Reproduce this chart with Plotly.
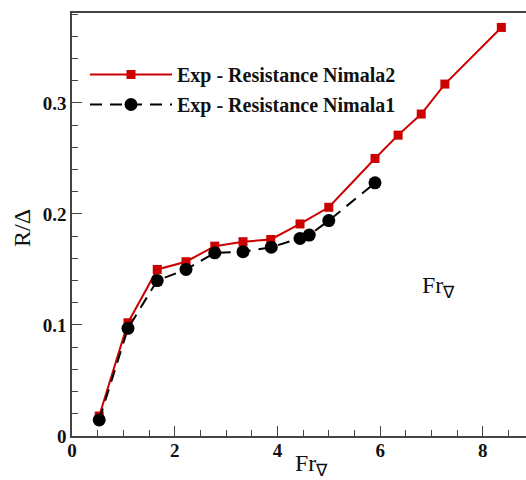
import plotly.graph_objects as go

fr_n2 = [0.53, 1.09, 1.66, 2.22, 2.78, 3.33, 3.87, 4.44, 5.0, 5.9, 6.35, 6.8, 7.26, 8.36]
r_n2 = [0.018, 0.102, 0.150, 0.157, 0.171, 0.175, 0.177, 0.191, 0.206, 0.250, 0.271, 0.290, 0.317, 0.368]

fr_n1 = [0.53, 1.09, 1.66, 2.22, 2.78, 3.33, 3.88, 4.44, 4.62, 5.0, 5.9]
r_n1 = [0.0145, 0.097, 0.140, 0.150, 0.165, 0.166, 0.170, 0.178, 0.181, 0.194, 0.228]

name_n2 = "Exp - Resistance Nimala2"
name_n1 = "Exp - Resistance Nimala1"

RED = "#cc0000"
SERIF = "Liberation Serif"

fig = go.Figure()
fig.add_trace(go.Scatter(
    x=fr_n2, y=r_n2, mode="lines+markers", name=name_n2, legendgroup="a",
    line=dict(color=RED, width=2),
    marker=dict(symbol="square", size=9, color=RED),
))
fig.add_trace(go.Scatter(
    x=fr_n1, y=r_n1, mode="lines+markers", name=name_n1, legendgroup="b",
    line=dict(color="black", width=2, dash="12px,8px"),
    marker=dict(symbol="circle", size=13, color="black"),
))

axis_common = dict(
    showgrid=False, zeroline=False, showline=True, linecolor="#444", linewidth=1.5,
    ticks="inside", ticklen=10, tickwidth=1.2, tickcolor="#444",
    tickfont=dict(family=SERIF, size=19, color="#111", weight="bold"),
)

fig.update_xaxes(
    range=[0, 8.84], dtick=2, tick0=0, mirror=True, ticklabelstandoff=-4,
    minor=dict(dtick=0.5, ticks="inside", ticklen=6, tickcolor="#444", tickwidth=1.2),
    **axis_common,
)
fig.update_yaxes(
    range=[0, 0.381], dtick=0.1, tick0=0,
    minor=dict(dtick=0.02, ticks="inside", ticklen=6, tickcolor="#444", tickwidth=1.2),
    **axis_common,
)

def px(xp):
    return (xp - 72) / 454

def py(yp):
    return (436 - yp) / 423

title_font = dict(family=SERIF, size=24, color="#111")
fig.add_annotation(
    x=px(293), y=py(465), xref="paper", yref="paper", xanchor="left", yanchor="middle",
    showarrow=False, text="Fr<sub>∇</sub>", font=title_font,
)
fig.add_annotation(
    x=px(420), y=py(287), xref="paper", yref="paper", xanchor="left", yanchor="middle",
    showarrow=False, text="Fr<sub>∇</sub>", font=title_font,
)
fig.add_annotation(
    x=px(22), y=py(228), xref="paper", yref="paper", xanchor="center", yanchor="middle",
    showarrow=False, text="R/Δ", textangle=-90,
    font=dict(family=SERIF, size=24, color="#111"),
)

fig.update_layout(
    width=526, height=480,
    margin=dict(l=72, r=0, t=13, b=44),
    paper_bgcolor="white", plot_bgcolor="white",
    showlegend=True,
    legend=dict(
        x=px(85), y=py(55), xanchor="left", yanchor="top",
        bgcolor="rgba(0,0,0,0)", itemwidth=82, tracegroupgap=1,
        font=dict(family=SERIF, size=20, color="#111", weight="bold"),
    ),
)

fig.write_html("out.html")
